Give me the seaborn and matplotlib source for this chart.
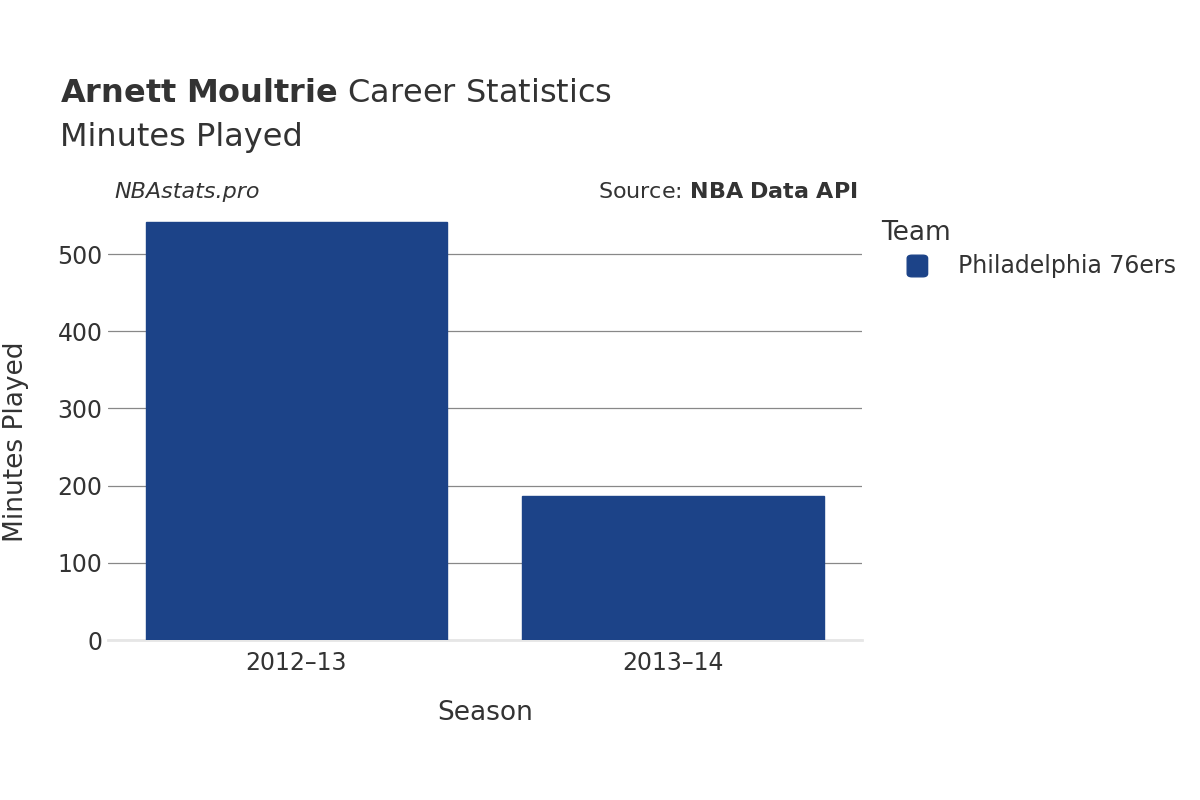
import pandas as pd
import seaborn as sns
import matplotlib.pyplot as plt
from matplotlib.patches import FancyBboxPatch

seasons = ['2012\u201313', '2013\u201314']
minutes = [541, 186]
teams = ['Philadelphia 76ers', 'Philadelphia 76ers']

df = pd.DataFrame({'Season': seasons, 'Minutes': minutes, 'Team': teams})

sns.set_theme(style='white', font='DejaVu Sans')
fig = plt.figure(figsize=(12, 8), dpi=100)
ax = fig.add_axes([0.09, 0.2, 0.628, 0.55])

sns.barplot(data=df, x='Season', y='Minutes', hue='Team', palette=['#1c4388'],
            saturation=1, width=0.8, ax=ax, legend=False, zorder=3)
for p in ax.patches:
    p.set_edgecolor('#1c4388')

ax.set_ylim(0, 570)
ax.set_yticks([0, 100, 200, 300, 400, 500])
ax.yaxis.grid(True, color='#888888', linewidth=0.9, zorder=0)
ax.tick_params(axis='both', labelsize=17, colors='#333333', length=0, pad=8)
ax.tick_params(axis='y', length=0, pad=4)
for s in ['top', 'right', 'left']:
    ax.spines[s].set_visible(False)
ax.spines['bottom'].set_color('#e6e6e6')
ax.spines['bottom'].set_linewidth(2)
ax.set_xlabel('Season', fontsize=19, color='#333333', labelpad=18)
ax.set_ylabel('Minutes Played', fontsize=19, color='#333333', labelpad=12)
ax.yaxis.set_label_coords(-0.105, 0.45)

fig.text(0.05, 0.873, r'$\bf{Arnett\ Moultrie}$ Career Statistics', fontsize=23, color='#333333')
fig.text(0.05, 0.818, 'Minutes Played', fontsize=23, color='#333333')
fig.text(0.095, 0.752, 'NBAstats.pro', fontsize=16, style='italic', color='#333333')
fig.text(0.715, 0.752, r'Source: $\bf{NBA\ Data\ API}$', fontsize=16, color='#333333', ha='right')

fig.text(0.734, 0.7, 'Team', fontsize=19, color='#333333')
fig.patches.append(FancyBboxPatch((0.756, 0.654), 0.017, 0.027, boxstyle='round,pad=0,rounding_size=0.004',
                                  transform=fig.transFigure, color='#1c4388'))
fig.text(0.798, 0.667, 'Philadelphia 76ers', fontsize=17, color='#333333', va='center')

fig.savefig('out.png', dpi=100)
